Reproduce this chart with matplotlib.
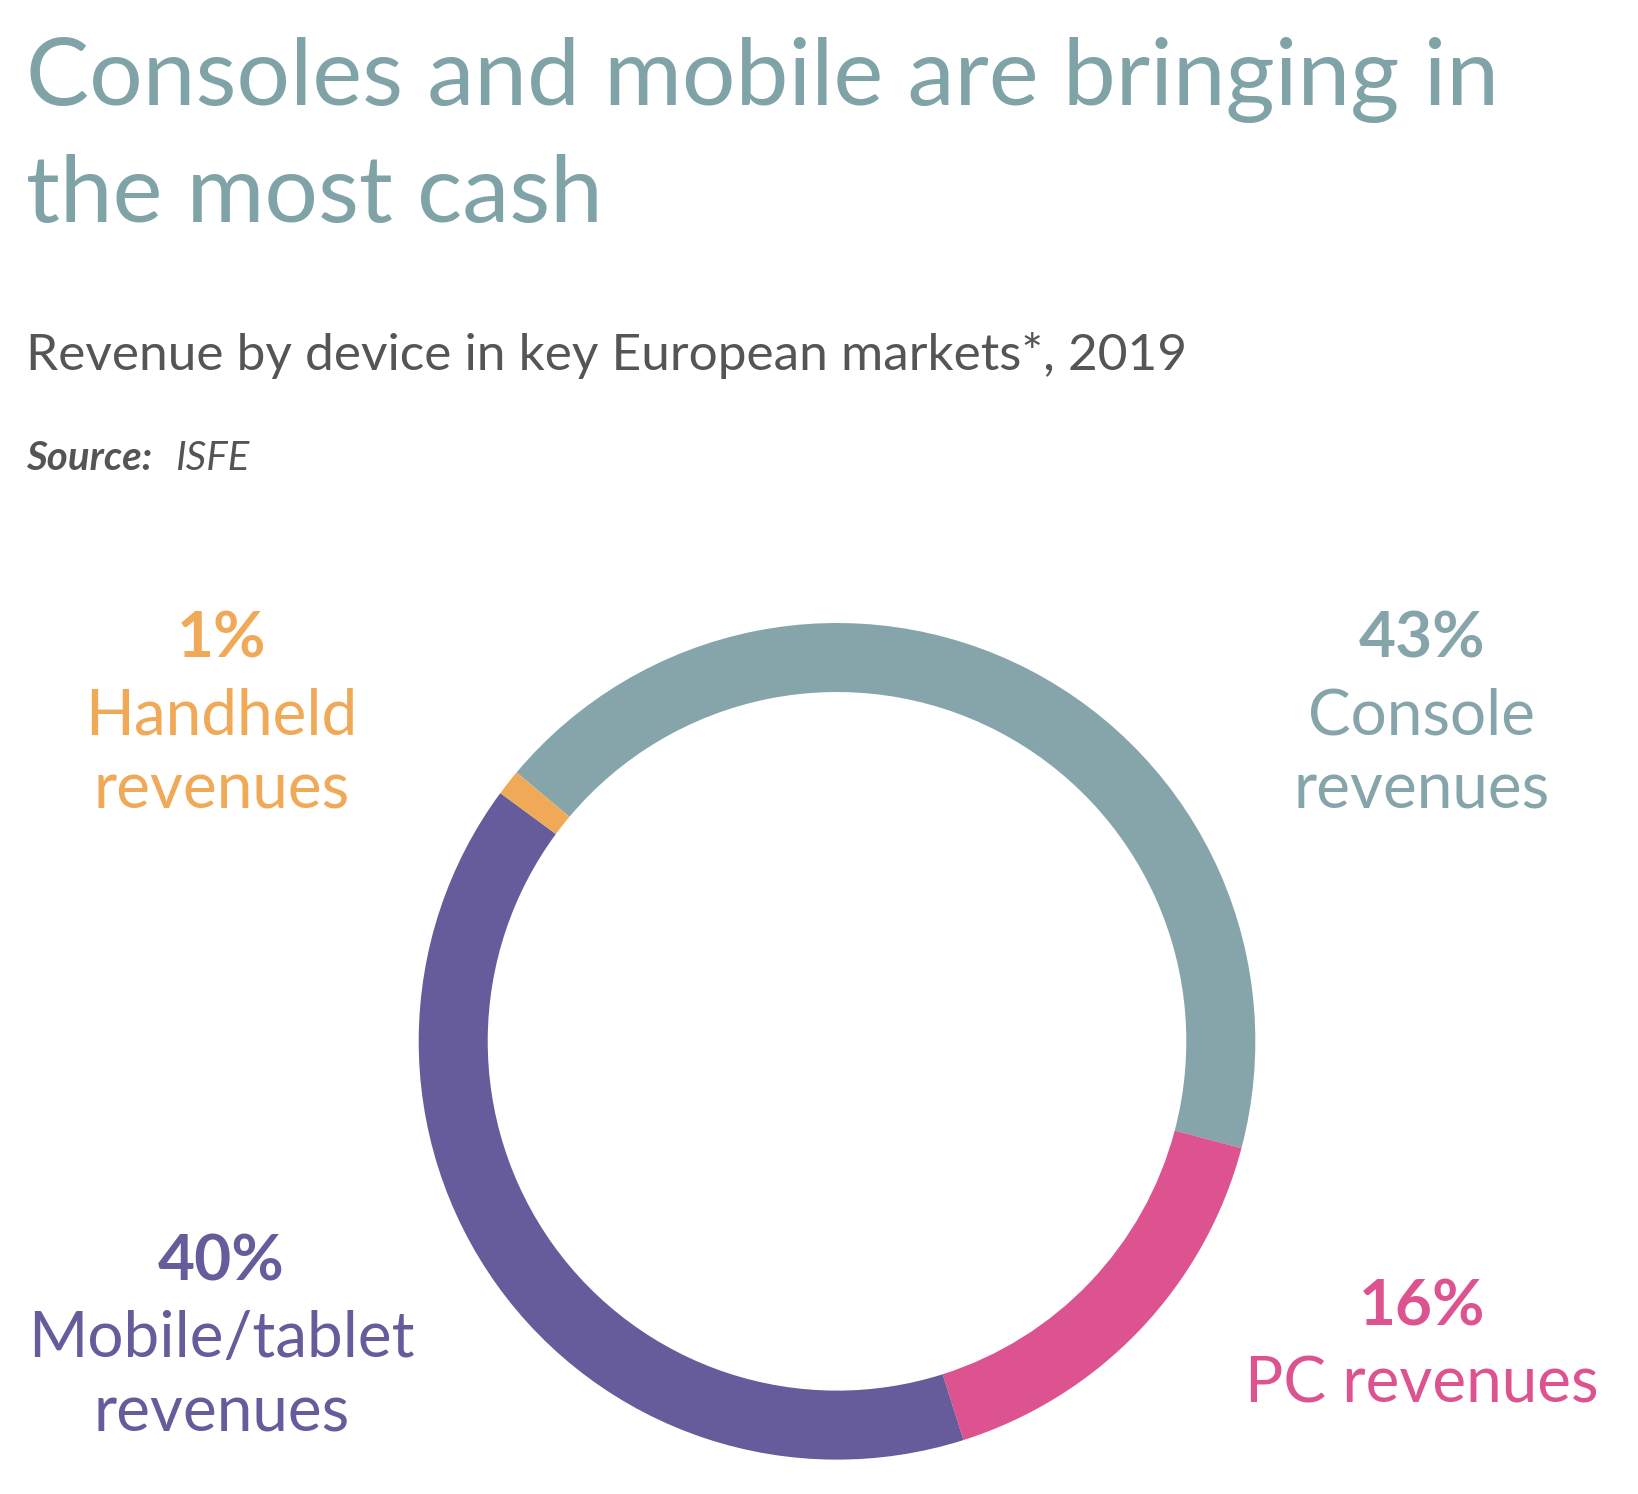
import matplotlib.pyplot as plt

plt.rcParams['font.family'] = ['Lato', 'DejaVu Sans']

# data
segments = ["Console", "PC", "Mobile/tablet", "Handheld"]
shares = [43, 16, 40, 1]
colors = ["#86a5ab", "#dc538f", "#665c9c", "#f0aa57"]
labels = ["Console\nrevenues", "PC revenues", "Mobile/tablet\nrevenues", "Handheld\nrevenues"]

fig = plt.figure(figsize=(16.38, 14.94), dpi=100)

# titles
fig.text(0.016, 0.975, "Consoles and mobile are bringing in\nthe most cash", color="#7fa3a6",
         fontsize=68, va="top", ha="left", linespacing=1.45)
fig.text(0.016, 0.762, "Revenue by device in key European markets*, 2019", color="#555555",
         fontsize=37, va="center", ha="left")
fig.text(0.016, 0.693, "Source:", color="#555555", fontsize=29, fontweight="bold",
         fontstyle="italic", va="center", ha="left")
fig.text(0.107, 0.693, "ISFE", color="#555555", fontsize=29, fontstyle="italic",
         va="center", ha="left")

# donut
ax = fig.add_axes([0.511 - 0.32, 0.303 - 0.35, 0.64, 0.70])
ax.pie(shares, colors=colors, startangle=140, counterclock=False,
       wedgeprops=dict(width=0.165, edgecolor="none"))
ax.set_aspect("equal")

# labels: (x, y) figure coords
pos = [(0.868, 0.572), (0.868, 0.125), (0.135, 0.155), (0.135, 0.572)]
for (x, y), s, lab, c in zip(pos, shares, labels, colors):
    fig.text(x, y, f"{s}%", color=c, fontsize=46, fontweight="bold", ha="center", va="center")
    fig.text(x, y - 0.032, lab, color=c, fontsize=46, ha="center", va="top", linespacing=1.35)

fig.savefig("out.png", dpi=100, facecolor="white")
